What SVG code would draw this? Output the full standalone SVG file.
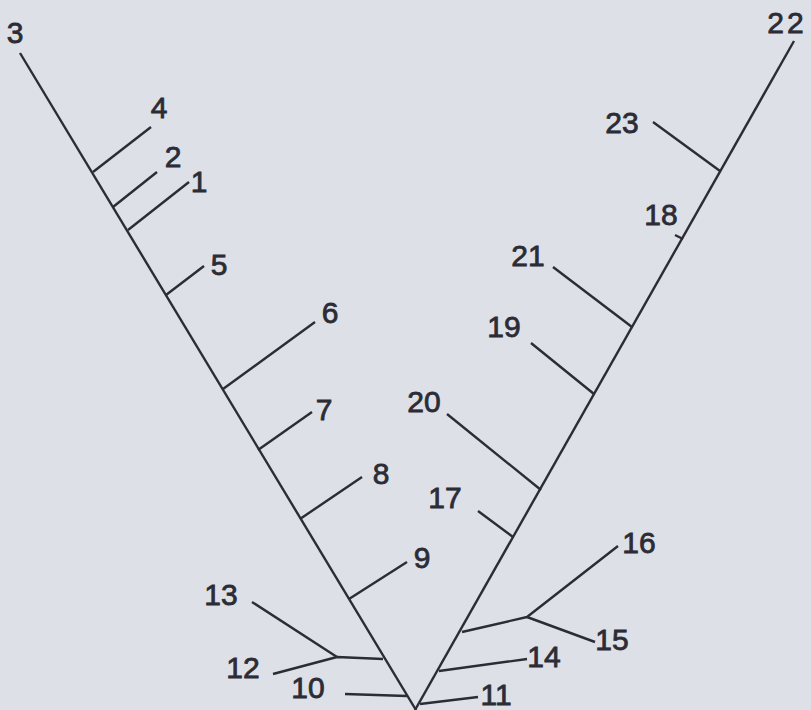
<svg xmlns="http://www.w3.org/2000/svg" width="811" height="710" viewBox="0 0 811 710">
<style>
.ln{stroke:#2b2c36;stroke-width:2.4;fill:none;stroke-linecap:butt;stroke-linejoin:round}
.lb{font-family:"Liberation Sans",Arial,sans-serif;font-size:30px;fill:#2b2c36;stroke:#2b2c36;stroke-width:0.8;text-anchor:middle}
</style>
<rect width="811" height="710" fill="#dde0e6"/>
<g id="connectors">
<path class="ln" d="M20,53 L416,710"/>
<path class="ln" d="M794,41 L415,710"/>
<path class="ln" d="M93,172 L151,127"/>
<path class="ln" d="M113,207 L157,172"/>
<path class="ln" d="M128,230 L189,182"/>
<path class="ln" d="M166,295 L204,266"/>
<path class="ln" d="M223,389 L315,322"/>
<path class="ln" d="M258,450 L312,412"/>
<path class="ln" d="M300,519 L362,477"/>
<path class="ln" d="M349,599 L407,562"/>
<path class="ln" d="M252,602 L337,657"/>
<path class="ln" d="M273,674 L337,657 L383,659"/>
<path class="ln" d="M345,694 L407,696"/>
<path class="ln" d="M420,704 L478,697"/>
<path class="ln" d="M439,671 L527,659"/>
<path class="ln" d="M462,632 L527,617 L618,546"/>
<path class="ln" d="M527,617 L595,642"/>
<path class="ln" d="M478,511 L513,537"/>
<path class="ln" d="M447,414 L541,490"/>
<path class="ln" d="M531,343 L594,394"/>
<path class="ln" d="M553,267 L632,327"/>
<path class="ln" d="M675,235 L683,239"/>
<path class="ln" d="M653,122 L720,171"/>
</g>
<g id="n3"><text class="lb" x="15" y="43">3</text></g>
<g id="n4"><text class="lb" x="159" y="118">4</text></g>
<g id="n2"><text class="lb" x="173" y="167">2</text></g>
<g id="n1"><text class="lb" x="199" y="192">1</text></g>
<g id="n5"><text class="lb" x="219" y="275">5</text></g>
<g id="n6"><text class="lb" x="330" y="323">6</text></g>
<g id="n7"><text class="lb" x="324" y="420">7</text></g>
<g id="n8"><text class="lb" x="381" y="484">8</text></g>
<g id="n9"><text class="lb" x="422" y="568">9</text></g>
<g id="n13"><text class="lb" x="221" y="605">13</text></g>
<g id="n12"><text class="lb" x="243" y="678">12</text></g>
<g id="n10"><text class="lb" x="308" y="698">10</text></g>
<g id="n11"><text class="lb" x="496" y="705">11</text></g>
<g id="n14"><text class="lb" x="544" y="667">14</text></g>
<g id="n15"><text class="lb" x="612" y="650">15</text></g>
<g id="n16"><text class="lb" x="639" y="553">16</text></g>
<g id="n17"><text class="lb" x="445" y="508">17</text></g>
<g id="n20"><text class="lb" x="424" y="412">20</text></g>
<g id="n19"><text class="lb" x="504" y="337">19</text></g>
<g id="n21"><text class="lb" x="528" y="266">21</text></g>
<g id="n18"><text class="lb" x="661" y="225">18</text></g>
<g id="n23"><text class="lb" x="622" y="133">23</text></g>
<g id="n22"><text class="lb" x="787" y="33" letter-spacing="3">22</text></g>
</svg>
